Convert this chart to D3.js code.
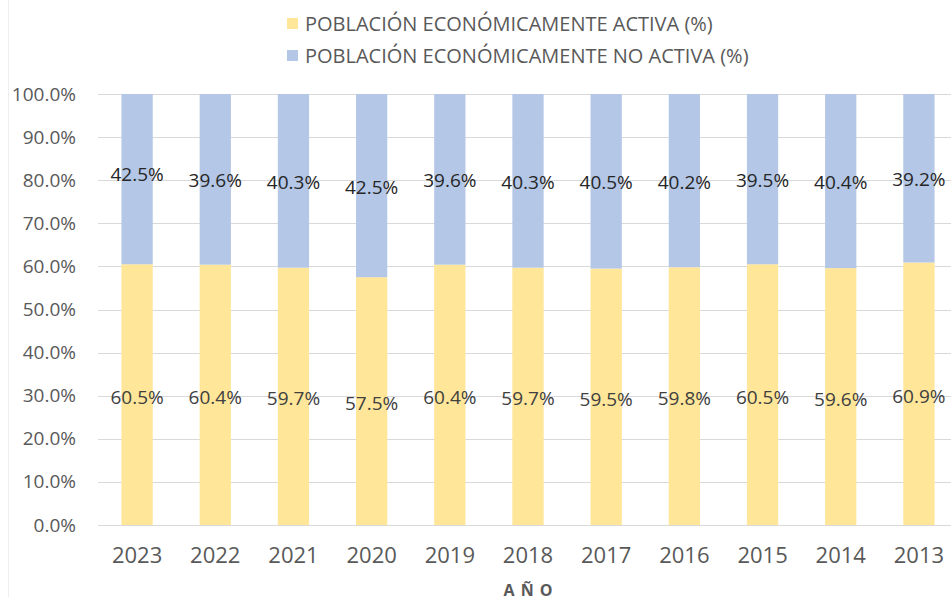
<!DOCTYPE html>
<html>
<head>
<meta charset="utf-8">
<script src="https://cdn.jsdelivr.net/npm/d3@7"></script>
<style>
  body { margin: 0; background: #fff; }
  svg { display: block; }
</style>
</head>
<body>
<div id="chart"></div>
<script>
const years = ["2023", "2022", "2021", "2020", "2019", "2018", "2017", "2016", "2015", "2014", "2013"];
const activa = [60.5, 60.4, 59.7, 57.5, 60.4, 59.7, 59.5, 59.8, 60.5, 59.6, 60.9];
const noActiva = [42.5, 39.6, 40.3, 42.5, 39.6, 40.3, 40.5, 40.2, 39.5, 40.4, 39.2];
const yTicks = [0, 10, 20, 30, 40, 50, 60, 70, 80, 90, 100];
const seriesNames = ["POBLACIÓN ECONÓMICAMENTE ACTIVA (%)", "POBLACIÓN ECONÓMICAMENTE NO ACTIVA (%)"];
const colors = ["#FFE699", "#B4C7E7"];

const width = 951, height = 597;
const margin = { top: 94, right: -7, bottom: 72, left: 98 };
const innerWidth = width - margin.left - margin.right,
    innerHeight = height - margin.top - margin.bottom;

const font = "'Open Sans', sans-serif";

const svg = d3.select("#chart").append("svg")
    .attr("width", width)
    .attr("height", height);

// faint chart border on the left
svg.append("line")
    .attr("x1", 8.5).attr("x2", 8.5)
    .attr("y1", 0).attr("y2", height)
    .attr("stroke", "#eeeeee");

const g = svg.append("g")
    .attr("transform", "translate(" + margin.left + "," + margin.top + ")");

const xScale = d3.scaleBand()
    .domain(years)
    .range([0, innerWidth])
    .paddingInner(0.6)
    .paddingOuter(0.3);

const yScale = d3.scaleLinear()
    .domain([0, 100])
    .range([innerHeight, 0]);

// gridlines
g.append("g")
    .selectAll("line")
    .data(yTicks)
    .join("line")
    .attr("x1", 0)
    .attr("x2", innerWidth)
    .attr("y1", d => Math.round(yScale(d)) + 0.5)
    .attr("y2", d => Math.round(yScale(d)) + 0.5)
    .attr("stroke", "#d9d9d9")
    .attr("stroke-width", 1);

// y axis labels
const yAxis = g.append("g")
    .call(d3.axisLeft(yScale).tickValues(yTicks).tickSize(0).tickPadding(22)
        .tickFormat(d => d.toFixed(1) + "%"));
yAxis.select(".domain").remove();
yAxis.selectAll("text")
    .style("font-family", font)
    .style("font-size", "19px")
    .attr("fill", "#595959");

// x axis labels
const xAxis = g.append("g")
    .attr("transform", "translate(0," + innerHeight + ")")
    .call(d3.axisBottom(xScale).tickSize(0).tickPadding(22));
xAxis.select(".domain").remove();
xAxis.selectAll("text")
    .style("font-family", font)
    .style("font-size", "22px")
    .attr("fill", "#595959");

// bars
const bw = xScale.bandwidth();
g.selectAll(".bar-activa")
    .data(years)
    .join("rect")
    .attr("class", "bar-activa")
    .attr("x", d => xScale(d))
    .attr("width", bw)
    .attr("y", (d, i) => yScale(activa[i]))
    .attr("height", (d, i) => yScale(0) - yScale(activa[i]))
    .attr("fill", colors[0]);

// stacked on top, clipped at the 100% axis max
g.selectAll(".bar-noactiva")
    .data(years)
    .join("rect")
    .attr("class", "bar-noactiva")
    .attr("x", d => xScale(d))
    .attr("width", bw)
    .attr("y", (d, i) => yScale(Math.min(100, activa[i] + noActiva[i])))
    .attr("height", (d, i) => yScale(activa[i]) - yScale(Math.min(100, activa[i] + noActiva[i])))
    .attr("fill", colors[1]);

// data labels
g.selectAll(".lbl-activa")
    .data(years)
    .join("text")
    .attr("class", "lbl-activa")
    .attr("x", d => xScale(d) + bw / 2)
    .attr("y", (d, i) => yScale(activa[i] / 2) + 2)
    .attr("text-anchor", "middle")
    .attr("dominant-baseline", "central")
    .style("font-family", font)
    .style("font-size", "19px")
    .attr("fill", "#404040")
    .text((d, i) => activa[i].toFixed(1) + "%");

g.selectAll(".lbl-noactiva")
    .data(years)
    .join("text")
    .attr("class", "lbl-noactiva")
    .attr("x", d => xScale(d) + bw / 2)
    .attr("y", (d, i) => yScale(activa[i] + noActiva[i] / 2) + 1)
    .attr("text-anchor", "middle")
    .attr("dominant-baseline", "central")
    .style("font-family", font)
    .style("font-size", "19px")
    .attr("fill", "#262626")
    .text((d, i) => noActiva[i].toFixed(1) + "%");

// x axis title
svg.append("text")
    .attr("x", 531)
    .attr("y", 590)
    .attr("text-anchor", "middle")
    .attr("dominant-baseline", "central")
    .style("font-family", font)
    .style("font-size", "16px")
    .style("font-weight", "bold")
    .style("letter-spacing", "6px")
    .attr("fill", "#595959")
    .text("AÑO");

// legend
const legend = svg.append("g")
    .attr("transform", "translate(287,0)");

seriesNames.forEach(function(name, i) {
    let row = legend.append("g")
        .attr("transform", "translate(0," + (23 + i * 32) + ")");

    row.append("rect")
        .attr("x", 0)
        .attr("y", -5)
        .attr("width", 11)
        .attr("height", 11)
        .attr("fill", colors[i]);

    row.append("text")
        .attr("x", 18)
        .attr("y", 0)
        .attr("dominant-baseline", "central")
        .style("font-family", "'Liberation Sans Narrow', 'Open Sans', sans-serif")
        .style("font-size", "20px")
        .attr("fill", "#595959")
        .text(name);
});
</script>
</body>
</html>
